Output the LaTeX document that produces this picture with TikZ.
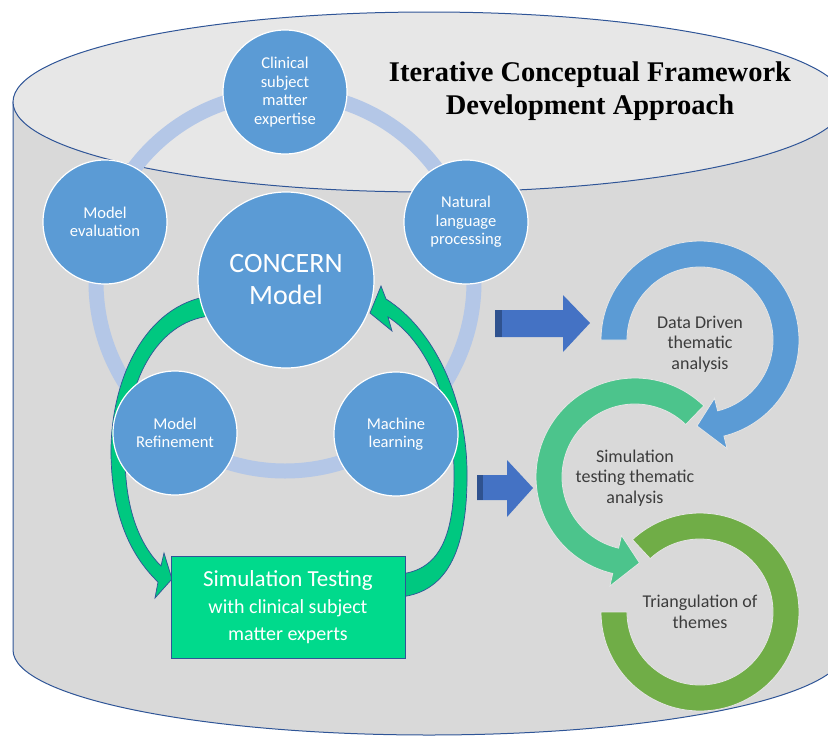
\documentclass[tikz,border=0pt]{standalone}
\usepackage{fontspec}
\setmainfont{Carlito}
\newfontfamily\titlefont{Liberation Serif}
\usepackage{tikz}
\usetikzlibrary{calc}
\definecolor{cblue}{RGB}{91,155,213}
\definecolor{ringblue}{RGB}{180,199,231}
\definecolor{edgeblue}{RGB}{47,85,151}
\definecolor{arrblue}{RGB}{68,114,196}
\definecolor{arrdark}{RGB}{47,82,143}
\definecolor{mint}{RGB}{0,218,140}
\definecolor{mintdark}{RGB}{0,200,128}
\definecolor{simgreen}{RGB}{76,196,140}
\definecolor{trigreen}{RGB}{112,173,71}
\definecolor{cylbody}{RGB}{217,217,217}
\definecolor{cyltop}{RGB}{231,231,231}
\definecolor{txtgray}{RGB}{60,60,60}
\tikzstyle{circ_s} = [circle, fill=cblue, draw=white, line width=1.2pt, minimum size=124pt, inner sep=0pt, text=white, align=center, font=\fontsize{16.5}{18.5}\selectfont]
\tikzstyle{circ_b} = [circ_s, minimum size=176pt, font=\fontsize{28}{32}\selectfont]
\tikzstyle{ring_t} = [align=center, text=txtgray, font=\fontsize{18}{20.5}\selectfont]
\tikzstyle{ring_x} = [draw=white!80!gray, line width=0.8pt]
\tikzstyle{blk_arr} = [fill=arrblue]
\tikzstyle{grn_arr} = [fill=mintdark, draw=edgeblue, line width=0.7pt]
\begin{document}
\begin{tikzpicture}[x=1pt,y=-1pt]
\useasboundingbox (0,0) rectangle (828,737);
\clip (0,0) rectangle (828,737);
% cylinder
\filldraw[fill=cylbody, draw=edgeblue, line width=1pt] (13,102) -- (13,650) arc[start angle=180, end angle=360, x radius=416pt, y radius=85pt] -- (845,102) -- cycle;
\filldraw[fill=cyltop, draw=edgeblue, line width=1pt] (429,102) ellipse [x radius=416pt, y radius=90pt];
\node[font=\titlefont\bfseries\fontsize{28.5}{33}\selectfont, align=center] (title) at (590,91) {Iterative Conceptual Framework\\Development Approach};
% cycle ring
\draw[ringblue, line width=15pt] (285,282) circle (189pt);
% green loop
\filldraw[grn_arr] (210,296) .. controls (145,305) and (110,380) .. (111,455) .. controls (112,515) and (130,555) .. (158,582) -- (155,598) -- (172,579) -- (164,553) -- (161,566) .. controls (140,545) and (125,510) .. (125,455) .. controls (125,385) and (155,322) .. (210,316) -- cycle;
\filldraw[grn_arr] (400,597) .. controls (450,592) and (468,545) .. (467,470) .. controls (466,400) and (435,330) .. (386,299) -- (381,286) -- (370,313) -- (392,331) -- (388,317) .. controls (425,340) and (453,400) .. (454,470) .. controls (455,535) and (440,570) .. (400,574) -- cycle;
% circles
\node[circ_s] (clin) at (285,92) {Clinical\\subject\\matter\\expertise};
\node[circ_s] (nlp) at (466,222) {Natural\\language\\processing};
\node[circ_s] (ml) at (396,434) {Machine\\learning};
\node[circ_s] (mref) at (175,433) {Model\\Refinement};
\node[circ_s] (meval) at (105,222) {Model\\evaluation};
\node[circ_b] (concern) at (286,280) {CONCERN\\Model};
\node[draw=edgeblue, fill=mint, line width=0.8pt, minimum width=234pt, minimum height=102pt, text=white, align=center, font=\fontsize{20}{27}\selectfont] (sim box) at (288,607) {{\fontsize{23}{28}\selectfont Simulation Testing}\\with clinical subject\\matter experts};
% block arrows
\fill[blk_arr] (495,310) -- (563,310) -- (563,295) -- (590,323) -- (563,352) -- (563,337) -- (495,337) -- cycle;
\fill[arrdark] (495,310) rectangle (502,337);
\fill[blk_arr] (477,475) -- (507,475) -- (507,460) -- (533,488) -- (507,517) -- (507,500) -- (477,500) -- cycle;
\fill[arrdark] (477,475) rectangle (483,500);
% analysis rings
\coordinate (dd) at (700,340);
\coordinate (st) at (635,477);
\coordinate (tri) at (700,612);
\filldraw[ring_x, fill=trigreen] ($(tri)+(180:99pt)$) arc[start angle=180, end angle=493, radius=99pt] -- ($(tri)+(133:73pt)$) arc[start angle=493, end angle=180, radius=73pt] -- cycle;
\filldraw[ring_x, fill=simgreen] ($(st)+(46:99pt)$) arc[start angle=46, end angle=257, radius=99pt] -- ($(st)+(257:112pt)$) -- ($(st)+(273:86pt)$) -- ($(st)+(257:60pt)$) -- ($(st)+(257:73pt)$) arc[start angle=257, end angle=46, radius=73pt] -- cycle;
\filldraw[ring_x, fill=cblue] ($(dd)+(180:99pt)$) arc[start angle=180, end angle=-76, radius=99pt] -- ($(dd)+(-76:112pt)$) -- ($(dd)+(-92:86pt)$) -- ($(dd)+(-76:60pt)$) -- ($(dd)+(-76:73pt)$) arc[start angle=-76, end angle=180, radius=73pt] -- cycle;
\node[ring_t] (dd text) at (700,344) {Data Driven\\thematic\\analysis};
\node[ring_t] (st text) at (635,478) {Simulation\\testing thematic\\analysis};
\node[ring_t] (tri text) at (700,612) {Triangulation of\\themes};
\end{tikzpicture}
\end{document}
